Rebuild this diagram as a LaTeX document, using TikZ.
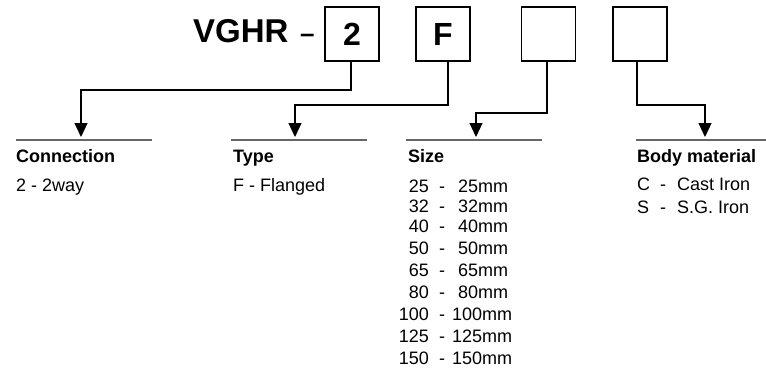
\documentclass[tikz,border=0pt]{standalone}
\usepackage{fontspec}
\setmainfont{Liberation Sans}
\usetikzlibrary{arrows.meta}
\begin{document}
\begin{tikzpicture}[x=1pt,y=-1pt,
 codebox/.style={draw=black,line width=1.4pt,minimum size=54pt,inner sep=0pt,font=\fontsize{32}{34}\selectfont\bfseries},
 conn/.style={line width=1.2pt,-{Triangle[length=14pt,width=13pt]}},
 headrule/.style={draw=black!60,line width=1.3pt},
 head/.style={anchor=base west,inner sep=0pt,font=\fontsize{18}{20}\selectfont\bfseries},
 txt/.style={anchor=base west,inner sep=0pt,font=\fontsize{18}{20}\selectfont},
 num/.style={anchor=base east,inner sep=0pt,font=\fontsize{18}{20}\selectfont},
]
\useasboundingbox (0,0) rectangle (766,376);

% title and code boxes
\node[anchor=base west,inner sep=0pt,font=\fontsize{33}{34}\selectfont\bfseries] (title) at (193,42) {VGHR};
\node[anchor=base west,inner sep=0pt,font=\fontsize{26}{28}\selectfont\bfseries] (tdash) at (300,42.5) {--};
\node[codebox] (b1) at (352,34) {2};
\node[codebox] (b2) at (443,34) {F};
\node[codebox] (b3) at (548.5,34) {};
\node[codebox] (b4) at (640,34) {};

% arrow tip coordinates
\coordinate (t1) at (81,137);
\coordinate (t2) at (295,137);
\coordinate (t3) at (476,137);
\coordinate (t4) at (705,137);

% connectors
\draw[conn] ([xshift=-1pt]b1.south) |- (81,90) -- (t1);
\draw[conn] ([xshift=5pt]b2.south) |- (295,105) -- (t2);
\draw[conn] ([xshift=-1.5pt]b3.south) |- (476,113) -- (t3);
\draw[conn] ([xshift=-3pt]b4.south) |- (705,105) -- (t4);

% heading rules
\draw[headrule] (16,140) -- (152,140);
\draw[headrule] (231,140) -- (367,140);
\draw[headrule] (406,140) -- (542,140);
\draw[headrule] (636,140) -- (766,140);

% Connection
\node[head] (h1) at (16,162) {Connection};
\node[txt] (c1) at (16,191) {2 - 2way};

% Type
\node[head] (h2) at (233,162) {Type};
\node[txt] (ty1) at (233,191) {F - Flanged};

% Size
\node[head] (h3) at (408,162) {Size};
\foreach \n/\v/\y/\x in {25/25/192/458, 32/32/212/458, 40/40/232/458, 50/50/254/458, 65/65/276/458, 80/80/298/458, 100/100/320/452, 125/125/342/452, 150/150/364/452}{
  \node[num] (sn\n) at (429,\y) {\n};
  \node[txt] (sd\n) at (439,\y) {-};
  \node[txt] (sv\n) at (\x,\y) {\v mm};
}

% Body material
\node[head] (h4) at (637,162) {Body material};
\node[txt] (m1) at (637,190) {C};
\node[txt] (m1d) at (660,190) {-};
\node[txt] (m1v) at (677,190) {Cast Iron};
\node[txt] (m2) at (637,213) {S};
\node[txt] (m2d) at (660,213) {-};
\node[txt] (m2v) at (677,213) {S.G. Iron};
\end{tikzpicture}
\end{document}
